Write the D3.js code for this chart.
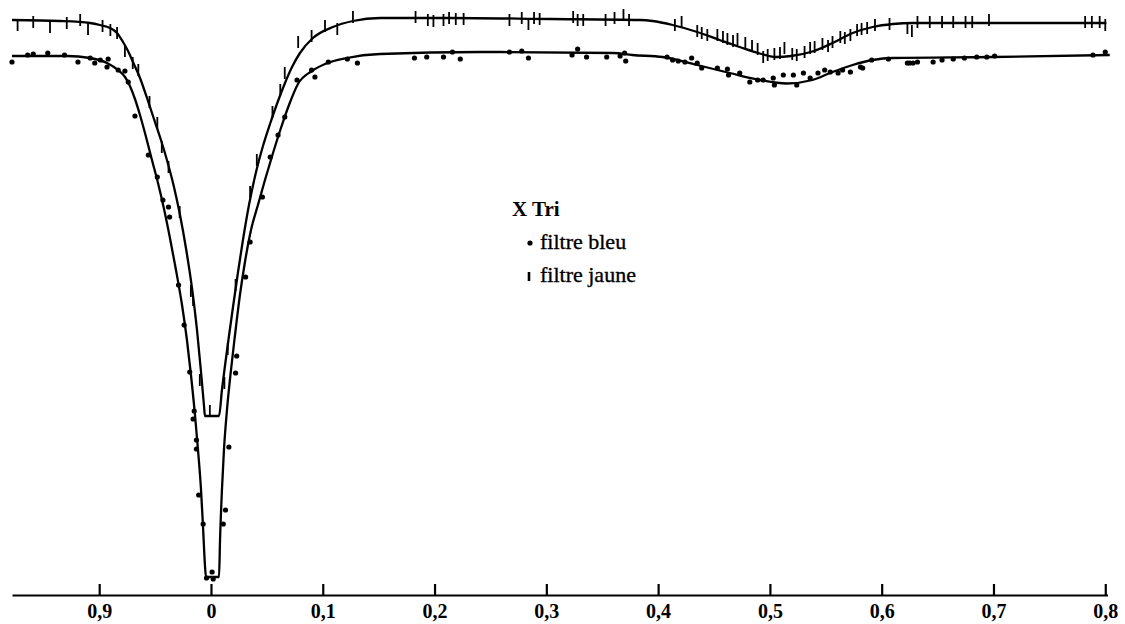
<!DOCTYPE html>
<html>
<head>
<meta charset="utf-8">
<script src="https://cdn.jsdelivr.net/npm/d3@7"></script>
<style>
  body { margin: 0; background: #fff; }
  text { font-family: "Liberation Serif", "Times New Roman", serif; fill: #000; }
</style>
</head>
<body>
<div id="wrapper"></div>
<script>
// phase ticks on the x axis (0,9 is phase -0.1)
const tickPhases = [-0.1, 0, 0.1, 0.2, 0.3, 0.4, 0.5, 0.6, 0.7, 0.8];
const tickLabels = ["0,9", "0", "0,1", "0,2", "0,3", "0,4", "0,5", "0,6", "0,7", "0,8"];

// fitted light curve, yellow filter: [phase, relative magnitude]
const yellowCurve = [
  [-0.1780, 0.080], [-0.1351, 0.084], [-0.1082, 0.092], [-0.0993, 0.100], [-0.0903, 0.112],
  [-0.0841, 0.132], [-0.0787, 0.168], [-0.0742, 0.204], [-0.0698, 0.248], [-0.0635, 0.312],
  [-0.0572, 0.392], [-0.0519, 0.464], [-0.0456, 0.548], [-0.0394, 0.640], [-0.0331, 0.748],
  [-0.0277, 0.860], [-0.0224, 0.992], [-0.0170, 1.152], [-0.0125, 1.320], [-0.0089, 1.488],
  [-0.0063, 1.620], [-0.0054, 1.664], [0.0072, 1.664], [0.0098, 1.560], [0.0125, 1.464],
  [0.0161, 1.344], [0.0197, 1.228], [0.0242, 1.088], [0.0286, 0.960], [0.0340, 0.820],
  [0.0403, 0.688], [0.0465, 0.584], [0.0528, 0.496], [0.0590, 0.416], [0.0662, 0.332],
  [0.0725, 0.268], [0.0796, 0.212], [0.0912, 0.152], [0.1091, 0.108], [0.1270, 0.084],
  [0.1512, 0.072], [0.214, 0.072], [0.303, 0.076], [0.384, 0.080], [0.395, 0.084],
  [0.413, 0.100], [0.435, 0.128], [0.455, 0.160], [0.473, 0.188], [0.491, 0.214],
  [0.505, 0.228], [0.519, 0.224], [0.538, 0.206], [0.556, 0.172], [0.574, 0.132],
  [0.592, 0.108], [0.610, 0.096], [0.628, 0.092], [0.699, 0.092], [0.801, 0.092]
];

// fitted light curve, blue filter
const blueCurve = [
  [-0.1780, 0.224], [-0.1288, 0.224], [-0.1082, 0.232], [-0.0930, 0.252], [-0.0832, 0.280],
  [-0.0769, 0.308], [-0.0725, 0.344], [-0.0680, 0.396], [-0.0635, 0.460], [-0.0581, 0.548],
  [-0.0528, 0.640], [-0.0474, 0.732], [-0.0420, 0.836], [-0.0367, 0.952], [-0.0313, 1.080],
  [-0.0259, 1.220], [-0.0215, 1.360], [-0.0179, 1.500], [-0.0143, 1.660], [-0.0116, 1.800],
  [-0.0089, 1.960], [-0.0072, 2.100], [-0.0054, 2.260], [-0.0045, 2.308], [0.0072, 2.308],
  [0.0081, 2.160], [0.0098, 1.960], [0.0116, 1.800], [0.0143, 1.640], [0.0179, 1.480],
  [0.0215, 1.340], [0.0259, 1.180], [0.0304, 1.048], [0.0358, 0.920], [0.0420, 0.820],
  [0.0483, 0.720], [0.0555, 0.612], [0.0626, 0.512], [0.0698, 0.420], [0.0778, 0.336],
  [0.0903, 0.284], [0.1020, 0.256], [0.1216, 0.232], [0.1512, 0.216], [0.241, 0.208],
  [0.360, 0.212], [0.377, 0.220], [0.404, 0.228], [0.435, 0.260], [0.464, 0.292],
  [0.491, 0.320], [0.515, 0.334], [0.538, 0.320], [0.556, 0.288], [0.574, 0.260],
  [0.592, 0.240], [0.610, 0.232], [0.699, 0.228], [0.804, 0.220]
];

// observations, blue filter (dots)
const blueObs = [
  [-0.178, 0.248], [-0.164, 0.220], [-0.159, 0.216], [-0.146, 0.212], [-0.131, 0.220],
  [-0.119, 0.248], [-0.108, 0.232], [-0.104, 0.252], [-0.099, 0.240], [-0.092, 0.236],
  [-0.093, 0.268], [-0.083, 0.280], [-0.077, 0.284], [-0.074, 0.328], [-0.068, 0.464],
  [-0.056, 0.620], [-0.048, 0.708], [-0.043, 0.800], [-0.038, 0.828], [-0.037, 0.868],
  [-0.029, 1.140], [-0.024, 1.300], [-0.019, 1.488], [-0.015, 1.644], [-0.016, 1.676],
  [-0.013, 1.760], [-0.013, 1.796], [-0.011, 1.980], [-0.007, 2.096], [-0.004, 2.312],
  [0.001, 2.288], [0.002, 2.316], [0.011, 2.096], [0.013, 2.040], [0.016, 1.788],
  [0.022, 1.492], [0.023, 1.424], [0.031, 1.108], [0.035, 0.968], [0.046, 0.788],
  [0.053, 0.628], [0.060, 0.540], [0.066, 0.468], [0.077, 0.320], [0.090, 0.280],
  [0.093, 0.308], [0.105, 0.248], [0.122, 0.236], [0.131, 0.252],
  [0.182, 0.232], [0.193, 0.228], [0.208, 0.228], [0.216, 0.208], [0.223, 0.236],
  [0.267, 0.208], [0.278, 0.204], [0.284, 0.232], [0.323, 0.220], [0.328, 0.196],
  [0.336, 0.228], [0.354, 0.228], [0.366, 0.224], [0.370, 0.212], [0.371, 0.244],
  [0.408, 0.228], [0.413, 0.240], [0.418, 0.244], [0.424, 0.248], [0.430, 0.232],
  [0.435, 0.252], [0.439, 0.272], [0.453, 0.272], [0.462, 0.276], [0.463, 0.300],
  [0.473, 0.292], [0.482, 0.328], [0.489, 0.320], [0.494, 0.320], [0.503, 0.312],
  [0.504, 0.340], [0.512, 0.300], [0.521, 0.300], [0.524, 0.340], [0.530, 0.292],
  [0.536, 0.312], [0.543, 0.292], [0.549, 0.280], [0.554, 0.288], [0.561, 0.292],
  [0.565, 0.280], [0.572, 0.288], [0.581, 0.268], [0.583, 0.272], [0.591, 0.240],
  [0.606, 0.236], [0.623, 0.252], [0.625, 0.252], [0.628, 0.252], [0.632, 0.248],
  [0.646, 0.248], [0.654, 0.240], [0.664, 0.236], [0.674, 0.232], [0.685, 0.228],
  [0.694, 0.228], [0.701, 0.224], [0.789, 0.220], [0.800, 0.208]
];

// observations, yellow filter (vertical strokes)
const yellowObs = [
  [-0.173, 0.100], [-0.159, 0.088], [-0.144, 0.108], [-0.129, 0.092], [-0.117, 0.080],
  [-0.110, 0.116], [-0.097, 0.104], [-0.090, 0.120], [-0.084, 0.132], [-0.077, 0.204],
  [-0.070, 0.252], [-0.065, 0.280], [-0.055, 0.408], [-0.048, 0.492], [-0.044, 0.588],
  [-0.038, 0.668], [-0.028, 0.848], [-0.018, 1.164], [-0.016, 1.200], [-0.010, 1.520],
  [-0.001, 1.644], [0.012, 1.532], [0.015, 1.396], [0.022, 1.140], [0.035, 0.768],
  [0.041, 0.640], [0.055, 0.448], [0.062, 0.360], [0.066, 0.292], [0.078, 0.168],
  [0.090, 0.144], [0.102, 0.104], [0.113, 0.116], [0.127, 0.068],
  [0.183, 0.068], [0.194, 0.080], [0.199, 0.084], [0.208, 0.080], [0.213, 0.072],
  [0.219, 0.076], [0.226, 0.076], [0.267, 0.080], [0.278, 0.072], [0.284, 0.096],
  [0.289, 0.072], [0.294, 0.076], [0.324, 0.068], [0.328, 0.080], [0.333, 0.080],
  [0.353, 0.080], [0.361, 0.072], [0.369, 0.060], [0.374, 0.080], [0.415, 0.100],
  [0.421, 0.088], [0.435, 0.124], [0.439, 0.132], [0.444, 0.140], [0.453, 0.140],
  [0.458, 0.148], [0.462, 0.156], [0.467, 0.164], [0.471, 0.156], [0.478, 0.172],
  [0.484, 0.184], [0.489, 0.196], [0.494, 0.228], [0.498, 0.220], [0.504, 0.216],
  [0.509, 0.212], [0.513, 0.192], [0.520, 0.216], [0.524, 0.220], [0.531, 0.208],
  [0.536, 0.192], [0.540, 0.188], [0.547, 0.176], [0.552, 0.184], [0.556, 0.168],
  [0.563, 0.148], [0.567, 0.152], [0.572, 0.140], [0.578, 0.120], [0.582, 0.116],
  [0.587, 0.112], [0.594, 0.100], [0.607, 0.096], [0.623, 0.112], [0.627, 0.124],
  [0.632, 0.088], [0.643, 0.088], [0.654, 0.088], [0.664, 0.088], [0.675, 0.088],
  [0.681, 0.088], [0.696, 0.080], [0.782, 0.088], [0.788, 0.088], [0.795, 0.088],
  [0.800, 0.100]
];

function drawLightCurve() {
    const dimensions = {
        width: 1125,
        height: 624,
        axisY: 595,
    };

    const phaseAccessor = d => d[0];
    const magAccessor = d => d[1];
    const serif = "'Liberation Serif', 'Times New Roman', serif";

    const wrapper = d3.select("#wrapper")
        .append("svg")
        .attr("width", dimensions.width)
        .attr("height", dimensions.height);

    wrapper.append("rect")
        .attr("width", dimensions.width)
        .attr("height", dimensions.height)
        .attr("fill", "#fff");

    // scales: phase across, magnitude downwards (fainter is lower)
    const xScale = d3.scaleLinear()
        .domain([-0.178, 0.802])
        .range([12, 1107.5]);

    const yScale = d3.scaleLinear()
        .domain([0, 2.4])
        .range([0, 600]);

    const lineGenerator = d3.line()
        .x(d => xScale(phaseAccessor(d)))
        .y(d => yScale(magAccessor(d)))
        .curve(d3.curveMonotoneX);

    // fitted curves
    [yellowCurve, blueCurve].forEach(curve => {
        wrapper.append("path")
            .datum(curve)
            .attr("d", lineGenerator)
            .attr("fill", "none")
            .attr("stroke", "#000")
            .attr("stroke-width", 2.3)
            .attr("stroke-linejoin", "round");
    });

    // blue filter points
    wrapper.append("g")
        .selectAll("circle")
        .data(blueObs)
        .join("circle")
        .attr("cx", d => xScale(phaseAccessor(d)))
        .attr("cy", d => yScale(magAccessor(d)))
        .attr("r", 2.6)
        .attr("fill", "#000");

    // yellow filter points
    wrapper.append("g")
        .selectAll("line")
        .data(yellowObs)
        .join("line")
        .attr("x1", d => xScale(phaseAccessor(d)))
        .attr("x2", d => xScale(phaseAccessor(d)))
        .attr("y1", d => yScale(magAccessor(d)) - 6)
        .attr("y2", d => yScale(magAccessor(d)) + 6)
        .attr("stroke", "#000")
        .attr("stroke-width", 1.8);

    // x axis, ticks pointing up
    const xAxisGenerator = d3.axisBottom(xScale)
        .tickValues(tickPhases)
        .tickFormat((d, i) => tickLabels[i])
        .tickSizeInner(-11)
        .tickSizeOuter(0)
        .tickPadding(9);

    const xAxis = wrapper.append("g")
        .attr("transform", `translate(0, ${dimensions.axisY})`)
        .attr("font-family", serif)
        .call(xAxisGenerator);

    xAxis.select(".domain").attr("stroke", "#000").attr("stroke-width", 2);
    xAxis.selectAll(".tick line").attr("stroke", "#000").attr("stroke-width", 2.2);
    xAxis.selectAll(".tick text")
        .attr("fill", "#000")
        .style("font-family", serif)
        .style("font-size", "20px")
        .style("font-weight", "bold");

    // legend
    const legend = wrapper.append("g")
        .style("font-family", serif);
    legend.append("text")
        .attr("x", 512)
        .attr("y", 216)
        .style("font-size", "21px")
        .style("font-weight", "bold")
        .text("X Tri");
    legend.append("circle")
        .attr("cx", 530)
        .attr("cy", 243)
        .attr("r", 2.6)
        .attr("fill", "#000");
    legend.append("text")
        .attr("x", 540)
        .attr("y", 249)
        .style("font-size", "22px")
        .attr("stroke", "#000")
        .attr("stroke-width", 0.35)
        .text("filtre bleu");
    legend.append("line")
        .attr("x1", 529).attr("x2", 529)
        .attr("y1", 272).attr("y2", 281)
        .attr("stroke", "#000")
        .attr("stroke-width", 2.6);
    legend.append("text")
        .attr("x", 540)
        .attr("y", 282)
        .style("font-size", "22px")
        .attr("stroke", "#000")
        .attr("stroke-width", 0.35)
        .text("filtre jaune");
}

drawLightCurve();
</script>
</body>
</html>
